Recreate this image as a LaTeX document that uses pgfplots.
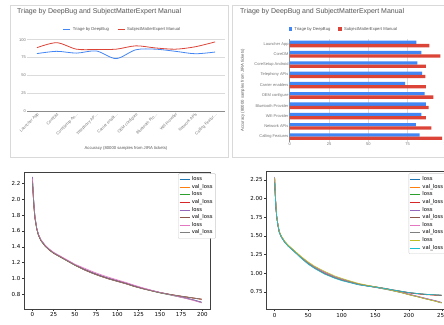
\documentclass[border=0pt]{standalone}
\usepackage{fontspec}
\setmainfont{Liberation Sans}
\newfontfamily\dejavu{DejaVu Sans}
\usepackage{pgfplots}
\pgfplotsset{compat=1.18}
\usepackage{pgfplotstable}
\definecolor{gblue}{HTML}{4285F4}
\definecolor{gred}{HTML}{DB4437}
\definecolor{gtitle}{HTML}{555555}
\definecolor{gtick}{HTML}{757575}
\definecolor{c0}{HTML}{1F77B4}
\definecolor{c1}{HTML}{FF7F0E}
\definecolor{c2}{HTML}{2CA02C}
\definecolor{c3}{HTML}{D62728}
\definecolor{c4}{HTML}{9467BD}
\definecolor{c5}{HTML}{8C564B}
\definecolor{c6}{HTML}{E377C2}
\definecolor{c7}{HTML}{7F7F7F}
\definecolor{c8}{HTML}{BCBD22}
\definecolor{c9}{HTML}{17BECF}

\pgfplotstableread{
idx pos deep expert
0 9 80.5 88.8
1 8 83.7 95.8
2 7 81.2 86.7
3 6 84.2 86.3
4 5 73.5 86.7
5 4 85.9 91.4
6 3 86.7 88.4
7 2 83.7 86.7
8 1 80.3 90.1
9 0 82.7 96.9
}\accdata

\pgfplotstableread{
x l1 v1 l2 v2 l3 v3 l4 v4
0 2.27 2.22 2.25 2.21 2.28 2.23 2.26 2.20
1 2.06 2.03 2.05 2.02 2.07 2.04 2.06 2.02
2 1.89 1.87 1.88 1.86 1.90 1.88 1.90 1.87
3 1.77 1.76 1.76 1.75 1.78 1.77 1.78 1.76
5 1.63 1.63 1.625 1.625 1.64 1.635 1.64 1.63
7 1.55 1.55 1.545 1.545 1.555 1.555 1.56 1.55
10 1.48 1.48 1.475 1.478 1.485 1.483 1.49 1.48
15 1.41 1.41 1.405 1.408 1.415 1.412 1.42 1.41
20 1.36 1.36 1.356 1.358 1.365 1.362 1.37 1.36
25 1.32 1.32 1.316 1.318 1.325 1.322 1.33 1.32
30 1.29 1.29 1.286 1.288 1.294 1.292 1.30 1.29
40 1.23 1.23 1.226 1.228 1.234 1.232 1.24 1.228
50 1.17 1.17 1.166 1.168 1.174 1.172 1.18 1.168
60 1.12 1.115 1.116 1.113 1.124 1.117 1.135 1.113
70 1.075 1.07 1.071 1.068 1.079 1.072 1.09 1.067
80 1.035 1.03 1.031 1.028 1.039 1.032 1.05 1.027
90 1.00 0.995 0.996 0.993 1.004 0.997 1.015 0.992
100 0.97 0.965 0.966 0.963 0.974 0.967 0.982 0.962
110 0.94 0.935 0.936 0.933 0.944 0.937 0.950 0.932
120 0.905 0.90 0.901 0.899 0.909 0.902 0.915 0.898
130 0.875 0.872 0.871 0.870 0.879 0.874 0.882 0.869
140 0.848 0.846 0.844 0.845 0.851 0.848 0.852 0.844
150 0.822 0.822 0.818 0.821 0.825 0.824 0.824 0.820
160 0.800 0.802 0.796 0.801 0.802 0.804 0.799 0.801
170 0.778 0.784 0.774 0.783 0.779 0.786 0.774 0.783
180 0.755 0.768 0.751 0.767 0.756 0.770 0.749 0.768
190 0.728 0.752 0.725 0.751 0.729 0.754 0.721 0.752
199 0.700 0.738 0.697 0.737 0.702 0.740 0.692 0.738
}\lossC

\pgfplotstableread{
x l1 v1 l2 v2 l3 v3 l4 v4 l5 v5
0 2.28 2.22 2.26 2.21 2.29 2.23 2.27 2.22 2.28 2.21
1 2.06 2.03 2.05 2.02 2.07 2.04 2.06 2.03 2.07 2.02
2 1.89 1.87 1.88 1.86 1.90 1.88 1.89 1.87 1.90 1.86
3 1.77 1.76 1.765 1.755 1.775 1.765 1.77 1.76 1.78 1.755
5 1.64 1.64 1.636 1.637 1.644 1.642 1.638 1.643 1.65 1.635
7 1.55 1.55 1.546 1.547 1.554 1.552 1.548 1.553 1.56 1.545
10 1.49 1.49 1.486 1.487 1.494 1.492 1.488 1.493 1.50 1.485
15 1.42 1.42 1.416 1.417 1.424 1.422 1.418 1.423 1.43 1.415
20 1.37 1.37 1.366 1.367 1.374 1.372 1.368 1.373 1.38 1.364
25 1.33 1.33 1.326 1.327 1.334 1.332 1.328 1.333 1.34 1.324
30 1.29 1.29 1.286 1.287 1.294 1.292 1.288 1.293 1.30 1.283
40 1.21 1.205 1.206 1.202 1.214 1.207 1.208 1.208 1.222 1.198
50 1.14 1.13 1.136 1.127 1.144 1.132 1.138 1.133 1.152 1.122
60 1.08 1.07 1.076 1.067 1.084 1.072 1.078 1.073 1.093 1.062
75 1.01 0.995 1.006 0.992 1.014 0.997 1.008 0.998 1.024 0.987
90 0.95 0.94 0.946 0.937 0.954 0.942 0.948 0.943 0.963 0.932
100 0.92 0.91 0.916 0.907 0.924 0.912 0.918 0.913 0.932 0.902
115 0.88 0.875 0.876 0.872 0.884 0.877 0.878 0.878 0.891 0.868
125 0.855 0.852 0.851 0.849 0.859 0.854 0.853 0.855 0.865 0.846
140 0.83 0.83 0.826 0.827 0.834 0.832 0.828 0.833 0.837 0.826
150 0.815 0.817 0.811 0.814 0.819 0.819 0.813 0.82 0.82 0.815
165 0.79 0.795 0.786 0.792 0.794 0.797 0.788 0.798 0.791 0.795
175 0.772 0.778 0.768 0.775 0.776 0.78 0.77 0.781 0.771 0.779
190 0.742 0.755 0.738 0.752 0.746 0.757 0.74 0.758 0.739 0.757
200 0.718 0.74 0.714 0.737 0.722 0.742 0.716 0.743 0.714 0.742
215 0.685 0.725 0.681 0.722 0.689 0.727 0.683 0.728 0.681 0.727
225 0.662 0.717 0.658 0.714 0.666 0.719 0.66 0.72 0.658 0.719
240 0.63 0.709 0.626 0.706 0.634 0.711 0.628 0.712 0.626 0.711
249 0.607 0.705 0.603 0.702 0.611 0.707 0.605 0.708 0.603 0.707
}\lossD

\pgfplotsset{
  gstyle/.style={
    scale only axis, anchor=south west,
    axis line style={draw=none}, major tick length=0pt,
    /pgf/number format/assume math mode=true,
    tick label style={font=\fontsize{4}{5}\selectfont, text=gtick, inner sep=1pt},
    grid style={black!14, line width=0.4pt},
    title style={font=\fontsize{7}{8}\selectfont, text=gtitle, anchor=west, inner sep=0pt},
    legend style={draw=none, fill=none, font=\fontsize{4.2}{5}\selectfont, text=gtitle,
      /tikz/every even column/.append style={column sep=6pt}},
    legend columns=2,
  },
  mstyle/.style={
    scale only axis, anchor=south west,
    /pgf/number format/assume math mode=true,
    tick align=outside, xtick pos=left, ytick pos=left,
    major tick length=2pt, tick style={black!80, line width=0.4pt},
    axis line style={black!75, line width=0.5pt},
    tick label style={font=\dejavu\fontsize{5.5}{6}\selectfont, inner sep=1.5pt},
    legend style={anchor=north west, draw=black!20, rounded corners=1pt,
      font=\dejavu\fontsize{5.3}{6}\selectfont, row sep=-1.9pt, inner sep=1pt},
    legend cell align=left,
    legend image code/.code={\draw[#1] (0pt,0pt) -- (10pt,0pt);},
    every axis plot/.append style={line width=0.6pt, mark=none},
  },
}

\begin{document}
\begin{tikzpicture}
\useasboundingbox (0,0) rectangle (444pt,324pt);
\clip (0,0) rectangle (444pt,324pt);
\fill[white] (0,0) rectangle (444pt,324pt);
\draw[black!15, line width=0.5pt] (10.5pt,167pt) rectangle (228pt,319pt);
\draw[black!15, line width=0.5pt] (232pt,167pt) rectangle (470pt,319pt);

% ---- Panel A: line chart
\begin{axis}[gstyle,
  at={(27pt,213pt)}, width=198pt, height=71.3pt,
  xmin=-0.5, xmax=9.5, ymin=0, ymax=100,
  ytick={25,50,75,100}, extra y ticks={0},
  extra y tick style={grid style={black!45, line width=0.5pt}},
  ymajorgrids,
  xtick={0,...,9},
  xticklabels={Launcher App, CoreDM, CoreSetup An\dots, Telephony AP\dots, Carrier enabl\dots, OEM configure, Bluetooth Pro\dots, Wifi Provider, Network APIs, Calling Featur\dots},
  x tick label style={rotate=45, anchor=north east},
  xlabel={Accuracy (80000 samples from JIRA tickets)},
  xlabel style={at={(axis description cs:0.5,-0.52)}, anchor=center, font=\fontsize{4.2}{5}\selectfont, text=gtitle},
  title={Triage by DeepBug and SubjectMatterExpert Manual},
  title style={at={(axis description cs:-0.0505,1.314)}},
  legend style={at={(axis description cs:0.482,1.146)}, anchor=center},
  legend image code/.code={\draw[#1, line width=1.2pt] (0pt,0pt) -- (7pt,0pt);},
]
\addplot[gblue, line width=0.8pt, smooth, mark=none] table[x=idx, y=deep]{\accdata};
\addplot[gred, line width=0.8pt, smooth, mark=none] table[x=idx, y=expert]{\accdata};
\legend{Triage by DeepBug, SubjectMatterExpert Manual}
\end{axis}

% ---- Panel B: bar chart
\begin{axis}[gstyle,
  at={(289.7pt,182.15pt)}, width=157.2pt, height=103pt,
  xbar, bar width=3.3pt,
  xmin=0, xmax=100, ymin=-0.5, ymax=9.5,
  xtick={25,50,75,100}, extra x ticks={0},
  extra x tick style={grid style={black!45, line width=0.5pt}},
  xmajorgrids,
  ytick={0,...,9},
  yticklabels={Calling Features, Network APIs, Wifi Provider, Bluetooth Provider, OEM configure, Carrier enablers, Telephony APIs, CoreSetup Android, CoreDM, Launcher App},
  ylabel={Accuracy (80000 samples from JIRA tickets)},
  ylabel style={at={(axis description cs:-0.299,0.5)}, anchor=center, font=\fontsize{4.2}{5}\selectfont, text=gtitle},
  title={Triage by DeepBug and SubjectMatterExpert Manual},
  title style={at={(axis description cs:-0.316,1.209)}},
  legend style={at={(axis description cs:0.345,1.093)}, anchor=center},
  legend image code/.code={\fill[#1] (0pt,-1.8pt) rectangle (3.6pt,1.8pt);},
]
\addplot[fill=gblue, draw=none, bar shift=1.65pt] table[x=deep, y=pos]{\accdata};
\addplot[fill=gred, draw=none, bar shift=-1.65pt] table[x=expert, y=pos]{\accdata};
\legend{Triage by DeepBug, SubjectMatterExpert Manual}
\end{axis}

% ---- Panel C: loss curves (200 epochs)
\begin{axis}[mstyle,
  at={(24pt,15pt)}, width=186pt, height=136.3pt,
  xmin=-9.95, xmax=208.95, ymin=0.615, ymax=2.334,
  xtick={0,25,50,75,100,125,150,175,200},
  ytick={0.8,1.0,1.2,1.4,1.6,1.8,2.0,2.2},
  yticklabel style={/pgf/number format/.cd, fixed, fixed zerofill, precision=1},
  legend style={at={(axis description cs:0.828,0.995)}},
]
\addplot[c0] table[x=x, y=l1]{\lossC};
\addplot[c1] table[x=x, y=v1]{\lossC};
\addplot[c2] table[x=x, y=l2]{\lossC};
\addplot[c3] table[x=x, y=v2]{\lossC};
\addplot[c4] table[x=x, y=l3]{\lossC};
\addplot[c5] table[x=x, y=v3]{\lossC};
\addplot[c6] table[x=x, y=l4]{\lossC};
\addplot[c7] table[x=x, y=v4]{\lossC};
\legend{loss, val\_loss, loss, val\_loss, loss, val\_loss, loss, val\_loss}
\end{axis}

% ---- Panel D: loss curves (250 epochs)
\begin{axis}[mstyle,
  at={(266.3pt,14.7pt)}, width=183.7pt, height=137.6pt,
  xmin=-12.45, xmax=261.45, ymin=0.518, ymax=2.361,
  xtick={0,50,100,150,200,250},
  ytick={0.75,1.00,1.25,1.50,1.75,2.00,2.25},
  yticklabel style={/pgf/number format/.cd, fixed, fixed zerofill, precision=2},
  legend style={at={(axis description cs:0.775,0.988)}},
]
\addplot[c0] table[x=x, y=l1]{\lossD};
\addplot[c1] table[x=x, y=v1]{\lossD};
\addplot[c2] table[x=x, y=l2]{\lossD};
\addplot[c3] table[x=x, y=v2]{\lossD};
\addplot[c4] table[x=x, y=l3]{\lossD};
\addplot[c5] table[x=x, y=v3]{\lossD};
\addplot[c6] table[x=x, y=l4]{\lossD};
\addplot[c7] table[x=x, y=v4]{\lossD};
\addplot[c8] table[x=x, y=l5]{\lossD};
\addplot[c9] table[x=x, y=v5]{\lossD};
\legend{loss, val\_loss, loss, val\_loss, loss, val\_loss, loss, val\_loss, loss, val\_loss}
\end{axis}
\end{tikzpicture}
\end{document}
